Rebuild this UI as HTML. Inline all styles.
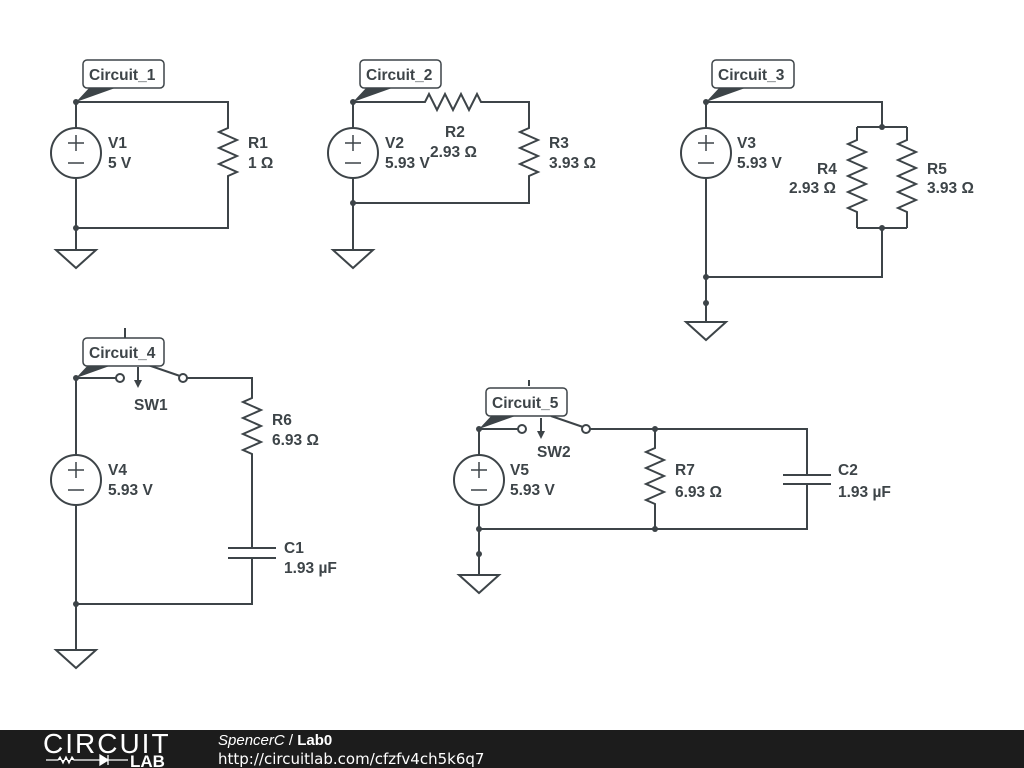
<!DOCTYPE html>
<html><head><meta charset="utf-8"><style>
html,body{margin:0;padding:0;background:#fff;}
svg{display:block;}
text{font-family:"Liberation Sans",sans-serif;font-weight:bold;font-size:15.5px;fill:#3d4448;}
.w{stroke:#3d4448;stroke-width:2;fill:none;}
.d{fill:#3d4448;}
.lb{fill:#fff;stroke:#3d4448;stroke-width:1.5;}
</style></head><body>
<svg width="1024" height="768" viewBox="0 0 1024 768">
<defs>
<g id="vs"><circle cx="0" cy="0" r="25" fill="#fff" stroke="#3d4448" stroke-width="2"/><path d="M-8,-10h16M0,-18v16M-8,10h16" stroke="#3d4448" stroke-width="1.5"/></g>
<g id="gnd"><path d="M-20,0h40L0,18Z" fill="#fff" stroke="#3d4448" stroke-width="2"/></g>
</defs>
<!-- Circuit 1 -->
<path class="w" d="M76,102H228V128l-9,4 18,8-18,8 18,8-18,8 18,8-9,4V228H76V102M76,228V250"/>
<use href="#vs" x="76" y="153"/><use href="#gnd" x="76" y="250"/>
<circle class="d" cx="76" cy="102" r="3"/><circle class="d" cx="76" cy="228" r="3"/>
<path class="d" d="M76,102L90,87H118Z"/>
<rect class="lb" x="83" y="60" width="81" height="28" rx="4"/>
<text x="89" y="80">Circuit_1</text>
<text x="108" y="148">V1</text><text x="108" y="168">5 V</text>
<text x="248" y="148">R1</text><text x="248" y="168">1 Ω</text>
<!-- Circuit 2 -->
<path class="w" d="M353,102H425l4,-8 8,16 8,-16 8,16 8,-16 8,16 8,-16 4,8H529V128l-9,4 18,8-18,8 18,8-18,8 18,8-9,4V203H353V102M353,203V250"/>
<use href="#vs" x="353" y="153"/><use href="#gnd" x="353" y="250"/>
<circle class="d" cx="353" cy="102" r="3"/><circle class="d" cx="353" cy="203" r="3"/>
<path class="d" d="M353,102L367,87H395Z"/>
<rect class="lb" x="360" y="60" width="81" height="28" rx="4"/>
<text x="366" y="80">Circuit_2</text>
<text x="385" y="148">V2</text><text x="385" y="168">5.93 V</text>
<text x="445" y="137">R2</text><text x="430" y="157">2.93 Ω</text>
<text x="549" y="148">R3</text><text x="549" y="168">3.93 Ω</text>
<!-- Circuit 3 -->
<path class="w" d="M706,102H882V127M857,127H907M857,127V140l-9,4 18,8-18,8 18,8-18,8 18,8-18,8 18,8-18,8 9,4V228M907,127V140l-9,4 18,8-18,8 18,8-18,8 18,8-18,8 18,8-18,8 9,4V228M857,228H907M882,228V277H706V102M706,277V322"/>
<use href="#vs" x="706" y="153"/><use href="#gnd" x="706" y="322"/>
<circle class="d" cx="706" cy="102" r="3"/><circle class="d" cx="882" cy="127" r="3"/><circle class="d" cx="882" cy="228" r="3"/><circle class="d" cx="706" cy="277" r="3"/><circle class="d" cx="706" cy="303" r="3"/>
<path class="d" d="M706,102L720,87H748Z"/>
<rect class="lb" x="712" y="60" width="82" height="28" rx="4"/>
<text x="718" y="80">Circuit_3</text>
<text x="737" y="148">V3</text><text x="737" y="168">5.93 V</text>
<text x="817" y="174">R4</text><text x="789" y="193">2.93 Ω</text>
<text x="927" y="174">R5</text><text x="927" y="193">3.93 Ω</text>
<!-- Circuit 4 -->
<path class="w" d="M76,378H116M187,378H252V398l-9,4 18,8-18,8 18,8-18,8 18,8-18,8 9,4V548M252,558V604H76V378M76,604V650M228,548H276M228,558H276M125,328V338M148,365L180,376M138,367V382"/>
<path class="d" d="M134,380L138,388L142,380Z"/>
<circle cx="120" cy="378" r="4" fill="#fff" stroke="#3d4448" stroke-width="2"/><circle cx="183" cy="378" r="4" fill="#fff" stroke="#3d4448" stroke-width="2"/>
<use href="#vs" x="76" y="480"/><use href="#gnd" x="76" y="650"/>
<circle class="d" cx="76" cy="378" r="3"/><circle class="d" cx="76" cy="604" r="3"/>
<path class="d" d="M76,378L90,363H118Z"/>
<rect class="lb" x="83" y="338" width="81" height="28" rx="4"/>
<text x="89" y="358">Circuit_4</text>
<text x="134" y="410">SW1</text>
<text x="272" y="425">R6</text><text x="272" y="445">6.93 Ω</text>
<text x="108" y="475">V4</text><text x="108" y="495">5.93 V</text>
<text x="284" y="553">C1</text><text x="284" y="573">1.93 µF</text>
<!-- Circuit 5 -->
<path class="w" d="M479,429H518M590,429H807V475M807,484V529H479V429M479,529V575M655,429V448l-9,4 18,8-18,8 18,8-18,8 18,8-18,8 9,4V529M783,475H831M783,484H831M529,380V386M551,416L583,427M541,418V433"/>
<path class="d" d="M537,431L541,439L545,431Z"/>
<circle cx="522" cy="429" r="4" fill="#fff" stroke="#3d4448" stroke-width="2"/><circle cx="586" cy="429" r="4" fill="#fff" stroke="#3d4448" stroke-width="2"/>
<use href="#vs" x="479" y="480"/><use href="#gnd" x="479" y="575"/>
<circle class="d" cx="479" cy="429" r="3"/><circle class="d" cx="655" cy="429" r="3"/><circle class="d" cx="655" cy="529" r="3"/><circle class="d" cx="479" cy="529" r="3"/><circle class="d" cx="479" cy="554" r="3"/>
<path class="d" d="M479,429L493,414H521Z"/>
<rect class="lb" x="486" y="388" width="81" height="28" rx="4"/>
<text x="492" y="408">Circuit_5</text>
<text x="537" y="457">SW2</text>
<text x="510" y="475">V5</text><text x="510" y="495">5.93 V</text>
<text x="675" y="475">R7</text><text x="675" y="497">6.93 Ω</text>
<text x="838" y="475">C2</text><text x="838" y="497">1.93 µF</text>
<!-- Footer -->
<rect x="0" y="730" width="1024" height="38" fill="#1c1c1c"/>
<text x="43" y="753" style="font-weight:normal;font-size:28px;fill:#fff;letter-spacing:2px;">CIRCUIT</text>
<path d="M46,760H58l2,-3 3,6 3,-6 3,6 3,-6 2,3H100M100,755v10l8,-5z M108,755v10M108,760H128" stroke="#fff" stroke-width="1.3" fill="#fff"/>
<text x="130" y="767" style="font-size:17px;fill:#fff;">LAB</text>
<text x="218" y="745" style="font-weight:normal;font-style:italic;font-size:15px;fill:#fff;">SpencerC <tspan font-style="normal">/</tspan> <tspan font-weight="bold" font-style="normal">Lab0</tspan></text>
<text x="218" y="764" style="font-weight:normal;font-size:15px;fill:#fff;font-family:'DejaVu Sans',sans-serif;">http://circuitlab.com/cfzfv4ch5k6q7</text>
</svg>
</body></html>
